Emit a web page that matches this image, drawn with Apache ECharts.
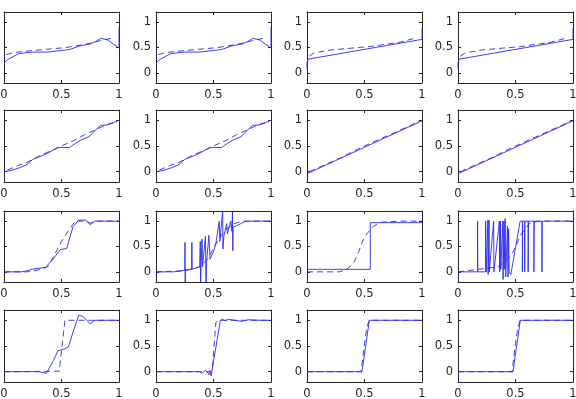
<!DOCTYPE html>
<html>
<head>
<meta charset="utf-8">
<script src="https://cdn.jsdelivr.net/npm/echarts@6/dist/echarts.min.js"></script>
<style>
  html, body { margin: 0; padding: 0; background: #fff; }
  #chart { width: 576px; height: 399px; }
</style>
</head>
<body>
<div id="chart"></div>
<script>
// tick labels
const xTicks = [0, 0.5, 1];
const yTicks = [0, 0.5, 1];

// row 1 (cols 1-2 and cols 3-4 look the same)
const r1aSolid = [[0,0.2],[0.03,0.26],[0.13,0.38],[0.25,0.41],[0.38,0.41],[0.57,0.46],[0.66,0.53],[0.75,0.57],[0.8,0.62],[0.84,0.68],[0.9,0.65],[1,0.49],[1,0.9]];
const r1aDash = [[0.02,0.36],[0.08,0.4],[0.25,0.44],[0.54,0.5],[0.72,0.57],[0.83,0.63],[0.93,0.68]];
const r1bSolid = [[0,0.08],[0,0.2],[0.01,0.27],[1,0.66],[1,0.88]];
const r1bDash = [[0.02,0.33],[0.06,0.39],[0.2,0.45],[0.55,0.52],[0.8,0.6],[0.95,0.69]];

// row 2
const r2aSolid = [[0,0],[0.07,0.03],[0.14,0.08],[0.2,0.14],[0.25,0.24],[0.32,0.3],[0.37,0.35],[0.43,0.42],[0.47,0.47],[0.57,0.47],[0.62,0.55],[0.67,0.62],[0.74,0.68],[0.8,0.82],[0.84,0.9],[0.9,0.91],[0.95,0.95],[1,1.0]];
const r2aDash = [[0.03,0.03],[0.12,0.12],[0.2,0.18],[0.3,0.3],[0.4,0.4],[0.55,0.55],[0.62,0.62],[0.7,0.72],[0.8,0.82],[0.9,0.92],[0.97,0.97]];
const r2bSolid = [[0,-0.04],[1,0.99]];
const r2bDash = [[0.02,0.0],[0.15,0.13],[0.3,0.28],[0.45,0.45],[0.6,0.6],[0.75,0.75],[0.9,0.9],[0.98,0.99]];

// row 3
const r3c1Solid = [[0,0],[0.15,0],[0.2,0.02],[0.26,0.06],[0.36,0.085],[0.43,0.26],[0.49,0.44],[0.545,0.46],[0.6,0.89],[0.65,1.02],[0.71,1.02],[0.75,0.93],[0.79,1.0],[1,1.0]];
const r3c1Dash = [[0,0],[0.2,0],[0.3,0.04],[0.38,0.1],[0.43,0.3],[0.5,0.6],[0.57,0.85],[0.62,1.0],[0.7,1.0],[0.75,0.96],[0.8,1.0],[1,1.0]];
const r3c2Solid = [[0,0],[0.15,0],[0.25,0.03],[0.252,0.58],[0.254,-0.2],[0.256,0.04],[0.31,0.05],[0.312,0.58],[0.314,0.05],[0.38,0.1],[0.385,0.6],[0.388,-0.2],[0.392,0.12],[0.4,0.65],[0.405,0.1],[0.43,0.7],[0.435,-0.2],[0.44,0.2],[0.46,0.72],[0.47,0.25],[0.49,0.35],[0.5,0.4],[0.52,0.55],[0.55,1.0],[0.555,0.6],[0.58,1.2],[0.582,0.45],[0.59,0.7],[0.615,0.95],[0.62,0.75],[0.65,1.0],[0.66,0.8],[0.665,1.2],[0.668,0.42],[0.67,0.88],[0.72,0.93],[0.77,0.99],[0.82,1.0],[1,1.0]];
const r3c2Dash = [[0,0],[0.25,0.02],[0.38,0.1],[0.45,0.25],[0.52,0.55],[0.6,0.82],[0.68,0.95],[0.75,1.0],[1,1.0]];
const r3c3Solid = [[0,0.05],[0.55,0.05],[0.55,0.97],[1,0.97]];
const r3c3Dash = [[0,0],[0.28,0],[0.33,0.03],[0.4,0.15],[0.45,0.4],[0.5,0.7],[0.58,0.9],[0.65,0.98],[0.8,1.0],[1,1.0]];
const r3c4Solid = [[0,0],[0.17,0],[0.17,1],[0.172,0],[0.24,0],[0.24,1],[0.245,0],[0.26,1.02],[0.262,-0.05],[0.27,1.02],[0.272,0],[0.31,1],[0.312,0],[0.36,1],[0.362,0],[0.37,1],[0.372,0.05],[0.39,1],[0.392,-0.15],[0.4,1],[0.402,0.05],[0.41,1.05],[0.415,-0.1],[0.43,0.9],[0.435,-0.1],[0.44,0.85],[0.445,0],[0.46,-0.05],[0.54,1.0],[0.56,1.0],[0.56,0],[0.562,1.0],[0.58,1.0],[0.58,0],[0.582,1],[0.61,1],[0.61,0],[0.612,1],[0.66,1],[0.66,0],[0.662,1],[0.73,1],[0.73,0],[0.732,1],[1,1]];
const r3c4Dash = [[0,0],[0.35,0.1],[0.42,0.22],[0.48,0.4],[0.55,0.75],[0.62,0.95],[0.7,1.0],[1,1.0]];

// row 4
const r4c1Solid = [[0,0],[0.3,0],[0.37,-0.03],[0.43,0.22],[0.47,0.41],[0.52,0.44],[0.56,0.48],[0.6,0.77],[0.65,1.1],[0.69,1.07],[0.72,1.0],[0.75,0.93],[0.79,1.0],[1,1.0]];
const r4c1Dash = [[0,0],[0.48,0.01],[0.49,0.01],[0.53,1.0],[1,1.0]];
const r4c2Solid = [[0,0],[0.38,0],[0.4,-0.03],[0.43,0.03],[0.45,-0.02],[0.46,-0.06],[0.47,0.02],[0.48,-0.08],[0.5,0.2],[0.56,1.0],[0.58,1.02],[0.6,0.99],[0.63,1.02],[0.68,1.0],[0.75,0.98],[0.8,1.01],[0.9,1.0],[1,1.0]];
const r4c2Dash = [[0,0],[0.47,0],[0.49,0.05],[0.52,0.95],[0.54,1.0],[1,1.0]];
const r4bSolid = [[0,0],[0.478,0],[0.542,1],[1,1]];
const r4bDash = [[0,0],[0.47,0],[0.5,0.55],[0.52,0.85],[0.54,1.0],[1,1]];

const panels = [
    [r1aSolid, r1aDash], [r1aSolid, r1aDash], [r1bSolid, r1bDash], [r1bSolid, r1bDash],
    [r2aSolid, r2aDash], [r2aSolid, r2aDash], [r2bSolid, r2bDash], [r2bSolid, r2bDash],
    [r3c1Solid, r3c1Dash], [r3c2Solid, r3c2Dash], [r3c3Solid, r3c3Dash], [r3c4Solid, r3c4Dash],
    [r4c1Solid, r4c1Dash], [r4c2Solid, r4c2Dash], [r4bSolid, r4bDash], [r4bSolid, r4bDash]
];

const colLeft = [4, 156, 307, 458];
const rowTop = [12, 110, 211, 310];
const rowH = [71, 72, 71, 72];
const plotW = 115;

const lineCol = '#2a2af0';
const axisCol = '#262626';

let chart = echarts.init(document.getElementById('chart'), null, { renderer: 'canvas' });

let grid = [], xAxis = [], yAxis = [], series = [];

panels.forEach((p, i) => {
    let r = Math.floor(i / 4), c = i % 4;
    // outerBoundsMode none: the first column's labels hang off the page, like the original
    grid.push({ left: colLeft[c], top: rowTop[r], width: plotW, height: rowH[r], containLabel: false, outerBoundsMode: 'none' });

    let tickStyle = { inside: true, length: 3, lineStyle: { color: axisCol } };
    let lineStyle = { show: true, onZero: false, lineStyle: { color: axisCol, width: 1 } };
    let label = { color: '#262626', fontFamily: 'DejaVu Sans', fontSize: 11.5 };

    // bottom / left axes carry the data
    xAxis.push({
        gridIndex: i, type: 'value', min: 0, max: 1, position: 'bottom',
        axisLine: lineStyle, splitLine: { show: false },
        axisTick: Object.assign({ customValues: xTicks }, tickStyle),
        axisLabel: Object.assign({ customValues: xTicks, margin: 6 }, label)
    });
    yAxis.push({
        gridIndex: i, type: 'value', min: -0.2, max: 1.2, position: 'left',
        axisLine: lineStyle, splitLine: { show: false },
        axisTick: Object.assign({ customValues: yTicks }, tickStyle),
        axisLabel: Object.assign({ customValues: yTicks, margin: 5 }, label)
    });
    // top / right axes just close the box with ticks
    xAxis.push({
        gridIndex: i, type: 'value', min: 0, max: 1, position: 'top',
        axisLine: lineStyle, splitLine: { show: false },
        axisTick: Object.assign({ customValues: xTicks }, tickStyle),
        axisLabel: { show: false }
    });
    yAxis.push({
        gridIndex: i, type: 'value', min: -0.2, max: 1.2, position: 'right',
        axisLine: lineStyle, splitLine: { show: false },
        axisTick: Object.assign({ customValues: yTicks }, tickStyle),
        axisLabel: { show: false }
    });

    series.push({
        type: 'line', xAxisIndex: i * 2, yAxisIndex: i * 2,
        data: p[1], showSymbol: false, silent: true, animation: false, clip: true,
        lineStyle: { color: lineCol, width: 0.9, type: [6, 4] }
    });
    series.push({
        type: 'line', xAxisIndex: i * 2, yAxisIndex: i * 2,
        data: p[0], showSymbol: false, silent: true, animation: false, clip: true,
        lineStyle: { color: lineCol, width: 0.9 }
    });
});

chart.setOption({
    backgroundColor: '#fff',
    animation: false,
    grid, xAxis, yAxis, series
});
</script>
</body>
</html>
